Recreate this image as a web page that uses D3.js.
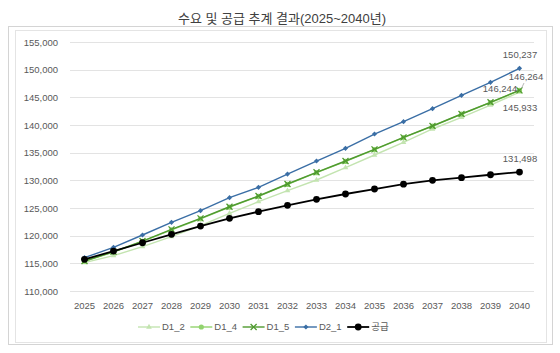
<!DOCTYPE html>
<html>
<head>
<meta charset="utf-8">
<script src="https://cdn.jsdelivr.net/npm/d3@7"></script>
<style>
  body { margin: 0; background: #fff; }
  text { font-family: "Liberation Sans", "Noto Sans CJK KR", sans-serif; }
</style>
</head>
<body>
<script>
let years = [2025, 2026, 2027, 2028, 2029, 2030, 2031, 2032, 2033, 2034, 2035, 2036, 2037, 2038, 2039, 2040];

let d1_2 = [115120, 116380, 118010, 119820, 121810, 124040, 126140, 128130, 130060, 132280, 134580, 136870, 139280, 141390, 143610, 145933];
let d1_4 = [115380, 117040, 118960, 121060, 123050, 125150, 127090, 129260, 131380, 133420, 135540, 137720, 139780, 141950, 144070, 146244];
let d1_5 = [115420, 117100, 119030, 121140, 123130, 125230, 127170, 129340, 131450, 133490, 135600, 137770, 139820, 141990, 144100, 146264];
let d2_1 = [116020, 117890, 120120, 122410, 124520, 126870, 128740, 131140, 133490, 135790, 138370, 140600, 142950, 145360, 147710, 150237];
let supply = [115720, 117220, 118720, 120240, 121740, 123130, 124330, 125490, 126570, 127530, 128430, 129300, 130000, 130480, 131010, 131498];

let yTicks = [110000, 115000, 120000, 125000, 130000, 135000, 140000, 145000, 150000, 155000];

let series = [
  { name: "D1_2", values: d1_2, color: "#c3e4b0", marker: "triangle" },
  { name: "D1_4", values: d1_4, color: "#92d36e", marker: "circle" },
  { name: "D1_5", values: d1_5, color: "#4f9a2f", marker: "cross" },
  { name: "D2_1", values: d2_1, color: "#3a6ea5", marker: "diamond" },
  { name: "공급", values: supply, color: "#000000", marker: "dot" }
];

let width = 560, height = 353;

let svg = d3.select("body").append("svg").attr("width", width).attr("height", height);

// frame
svg.append("rect").attr("x", 8.5).attr("y", 26.5).attr("width", 544).attr("height", 318)
  .attr("fill", "none").attr("stroke", "#d4d4d4");
svg.append("rect").attr("x", 15.5).attr("y", 30.5).attr("width", 531).attr("height", 312)
  .attr("fill", "none").attr("stroke", "#e4e4e4");

svg.append("text").attr("x", 282).attr("y", 23).attr("text-anchor", "middle")
  .attr("font-size", 13).attr("fill", "#404040")
  .text("수요 및 공급 추계 결과(2025~2040년)");

let x = d3.scaleBand().domain(years).range([70, 534]);
let y = d3.scaleLinear().domain([110000, 155000]).range([291, 42]);
let cx = d => x(d) + x.bandwidth() / 2;

// grid
svg.append("g").selectAll("line").data(yTicks).join("line")
  .attr("x1", 70).attr("x2", 534)
  .attr("y1", d => Math.round(y(d)) + 0.5).attr("y2", d => Math.round(y(d)) + 0.5)
  .attr("stroke", "#e3e3e3");

let yAxis = svg.append("g").attr("transform", "translate(61,0)")
  .call(d3.axisLeft(y).tickValues(yTicks).tickFormat(d3.format(",")).tickSize(0));
yAxis.select(".domain").remove();
yAxis.selectAll("text").attr("font-size", 9.5).attr("fill", "#595959").attr("dy", "0.35em");

let xAxis = svg.append("g").attr("transform", "translate(0,299)")
  .call(d3.axisBottom(x).tickSize(0));
xAxis.select(".domain").remove();
xAxis.selectAll("text").attr("font-size", 9.5).attr("fill", "#595959");

let line = d3.line().x((d, i) => cx(years[i])).y(d => y(d));

function drawMarker(g, type, color) {
  if (type === "triangle") {
    g.append("path").attr("d", d3.symbol(d3.symbolTriangle, 14)()).attr("fill", color);
  } else if (type === "circle") {
    g.append("circle").attr("r", 2.6).attr("fill", color);
  } else if (type === "cross") {
    g.append("path").attr("d", "M-3,-3L3,3M-3,3L3,-3").attr("stroke", color).attr("stroke-width", 1.3);
  } else if (type === "diamond") {
    g.append("path").attr("d", "M0,-2.6L2.6,0L0,2.6L-2.6,0Z").attr("fill", color);
  } else {
    g.append("circle").attr("r", 3.4).attr("fill", color);
  }
}

series.forEach(s => {
  svg.append("path").datum(s.values).attr("d", line)
    .attr("fill", "none").attr("stroke", s.color).attr("stroke-width", s.marker === "dot" ? 1.8 : 1.4);
  s.values.forEach((v, i) => {
    let g = svg.append("g").attr("transform", "translate(" + cx(years[i]) + "," + y(v) + ")");
    drawMarker(g, s.marker, s.color);
  });
});

// end labels
let fmt = d3.format(",");
let last = years.length - 1;
let endLabels = [
  { v: d2_1[last], x: 520, y: 58, anchor: "middle" },
  { v: d1_5[last], x: 526, y: 80, anchor: "middle" },
  { v: d1_4[last], x: 500, y: 92, anchor: "middle" },
  { v: d1_2[last], x: 520, y: 111, anchor: "middle" },
  { v: supply[last], x: 520, y: 162, anchor: "middle" }
];
svg.append("line").attr("x1", 524).attr("y1", 83).attr("x2", cx(2040) + 2).attr("y2", y(d1_5[last]) - 2)
  .attr("stroke", "#a6a6a6").attr("stroke-width", 0.8);
svg.append("g").selectAll("text").data(endLabels).join("text")
  .attr("x", d => d.x).attr("y", d => d.y).attr("text-anchor", d => d.anchor)
  .attr("font-size", 9.5).attr("fill", "#595959")
  .text(d => fmt(d.v));

// legend
let legend = svg.append("g").attr("transform", "translate(138,327)");
series.forEach((s, i) => {
  let g = legend.append("g").attr("transform", "translate(" + (i * 52.3) + ",0)");
  g.append("line").attr("x1", 0).attr("x2", 22).attr("stroke", s.color).attr("stroke-width", s.marker === "dot" ? 1.8 : 1.4);
  let m = g.append("g").attr("transform", "translate(11,0)");
  drawMarker(m, s.marker, s.color);
  g.append("text").attr("x", 24).attr("dy", "0.35em").attr("font-size", 9.5).attr("fill", "#595959").text(s.name);
});
</script>
</body>
</html>
